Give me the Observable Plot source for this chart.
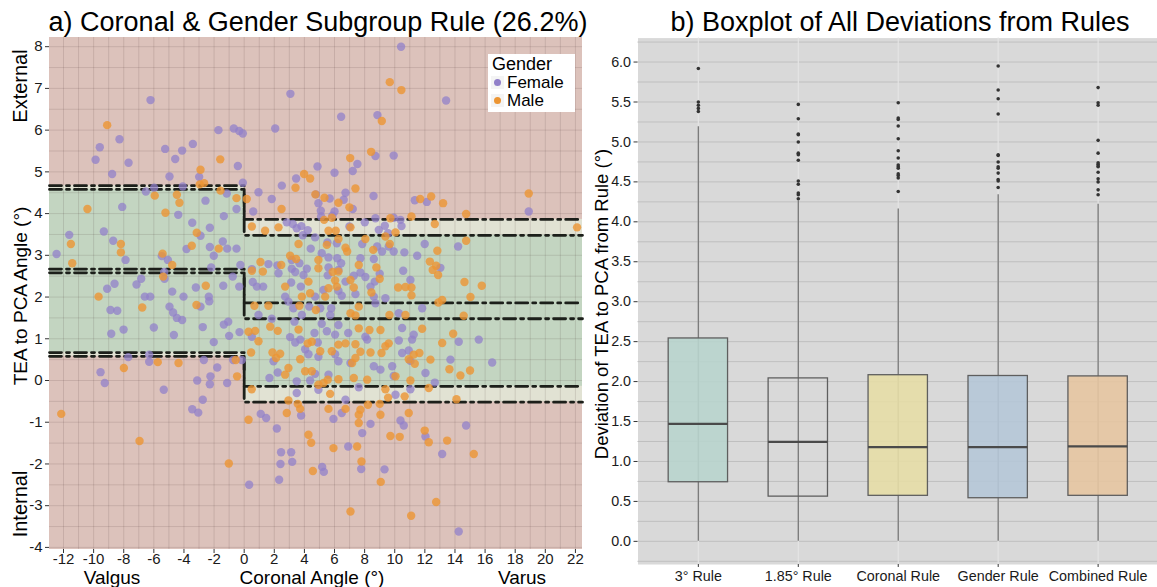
<!DOCTYPE html>
<html>
<head>
<meta charset="utf-8">
<script src="https://cdn.jsdelivr.net/npm/d3@7"></script>
<script src="https://cdn.jsdelivr.net/npm/@observablehq/plot@0.6"></script>
<style>
body{margin:0;background:#fff;font-family:"Liberation Sans",Arial,sans-serif;overflow:hidden;}
#wrap{position:relative;width:1157px;height:587px;overflow:hidden;background:#fff;}
.lbl{position:absolute;white-space:nowrap;font-size:19px;color:#000;transform:translate(-50%,-50%);line-height:1;}
.rot{transform:translate(-50%,-50%) rotate(-90deg);}
.title{font-size:27px;}
#left,#right{position:absolute;top:0;}
#left{left:0;} #right{left:590px;}
#legend{position:absolute;left:488px;top:54px;width:87px;height:58px;background:#fff;}
#legend .t{position:absolute;left:4px;font-size:17px;line-height:18px;white-space:nowrap;}
#legend .k{position:absolute;left:3px;width:13px;height:13px;background:#f4f4f4;}
#legend .d{position:absolute;left:3px;top:3px;width:7px;height:7px;border-radius:50%;}
</style>
</head>
<body>
<div id="wrap">
  <div id="left"></div>
  <div id="right"></div>
  <div class="lbl title" style="left:318px;top:22px;">a) Coronal &amp; Gender Subgroup Rule (26.2%)</div>
  <div class="lbl title" style="left:900px;top:22px;">b) Boxplot of All Deviations from Rules</div>
  <div class="lbl rot" style="left:20px;top:86px;font-size:20px;">External</div>
  <div class="lbl rot" style="left:20px;top:296px;">TEA to PCA Angle (°)</div>
  <div class="lbl rot" style="left:20px;top:504px;font-size:20px;">Internal</div>
  <div class="lbl" style="left:112px;top:577px;">Valgus</div>
  <div class="lbl" style="left:312px;top:577px;">Coronal Angle (°)</div>
  <div class="lbl" style="left:522px;top:577px;">Varus</div>
  <div class="lbl rot" style="left:602px;top:304px;font-size:18.5px;">Deviation of TEA to PCA from Rule (°)</div>
  <div id="legend">
    <div class="t" style="top:1px;font-size:18px;">Gender</div>
    <div class="k" style="top:22px;"><div class="d" id="kf"></div></div>
    <div class="t" style="left:19px;top:20px;">Female</div>
    <div class="k" style="top:40px;"><div class="d" id="km"></div></div>
    <div class="t" style="left:19px;top:38px;">Male</div>
  </div>
</div>
<script>
// ---------- Panel a data ----------
const femalePoints = [
[-12.46,3.03],[-11.62,3.49],[-9.32,3.57],[-8.70,3.35],[-8.10,4.16],[-9.87,5.29],[-9.59,5.59],[-8.28,5.78],[-7.68,5.22],[-8.77,4.95],[-6.22,6.72],[-5.25,5.55],[-4.58,5.31],[-4.12,5.51],[-3.41,5.67],[-4.96,4.89],[-6.53,4.53],[-5.98,4.62],[-4.08,4.65],[-2.99,4.88],[-4.38,3.97],[-3.45,3.78],[-2.90,3.47],[-2.28,3.66],[-1.42,3.33],[-2.28,3.20],[-2.02,2.99],[-3.83,3.15],[-1.13,3.16],[-0.51,3.16],[-5.47,2.98],[-5.07,2.89],[-7.88,2.89],[-2.19,2.71],[-1.35,3.94],[-1.16,4.48],[-1.71,6.00],[-0.69,6.04],[-0.33,5.98],[-0.09,5.92],[-0.42,5.14],[-0.09,4.74],[-0.51,4.11],[-2.57,4.31],[-5.29,2.44],[-5.31,2.60],[-6.84,2.44],[-7.15,2.30],[-9.10,2.20],[-8.61,2.32],[-6.60,2.01],[-6.24,2.01],[-4.78,2.13],[-4.03,2.01],[-3.21,2.23],[-2.35,2.01],[-1.39,2.27],[-0.76,2.49],[-0.33,2.25],[-0.25,2.77],[-2.32,1.90],
[-8.88,1.69],[-8.43,1.67],[-8.83,1.12],[-8.01,1.22],[-6.00,1.27],[-4.96,1.77],[-4.72,1.63],[-4.47,1.50],[-4.12,1.45],[-4.67,1.09],[-2.75,1.28],[-2.90,1.77],[-1.35,1.34],[-1.06,1.41],[-1.00,1.07],[-0.31,1.16],[-0.73,0.49],[-2.02,0.92],[-2.68,0.49],[-1.79,0.31],[-1.13,-0.06],[-2.24,0.10],[-2.28,-0.09],[-3.12,0.00],[-2.75,-0.46],[-3.45,-0.69],[-3.05,-0.77],[-5.34,-0.22],[-6.31,0.45],[-6.31,0.62],[-7.70,0.56],[-9.54,0.20],[-9.26,-0.06],
[4.87,5.13],[6.00,4.98],[3.45,4.84],[2.50,4.67],[0.95,4.51],[1.83,4.35],[0.60,4.05],[4.76,4.46],[4.93,4.25],[5.09,4.07],[6.00,4.05],[2.83,3.79],[3.23,3.75],[3.49,3.65],[3.80,3.70],[4.22,3.60],[3.89,3.48],[5.11,3.93],[5.86,3.95],[4.71,3.43],[5.53,3.31],[4.42,3.16],[6.15,3.29],[5.15,3.05],[5.60,2.95],[6.18,2.93],[6.44,2.81],[3.16,2.89],[3.67,2.81],[2.21,2.76],[1.61,2.79],[3.16,2.68],[3.39,2.60],[4.16,2.68],[3.94,2.53],[5.60,2.71],[6.26,2.65],[5.55,2.52],[0.51,2.67],[0.57,2.36],[0.84,2.25],[1.26,2.25],[2.28,2.57],[3.12,2.35],[3.76,2.25],[4.71,2.01],[5.27,2.17],[6.26,2.15],[6.48,2.03],[2.72,2.01],[5.68,4.36],[6.61,4.33],
[8.72,5.38],[9.93,5.39],[7.52,5.19],[7.21,5.02],[6.73,4.50],[8.59,4.42],[7.21,4.11],[11.33,4.32],[12.13,4.28],[8.72,3.89],[9.93,3.90],[10.38,3.85],[8.01,3.79],[6.99,3.69],[9.34,3.71],[10.45,3.70],[8.94,3.61],[9.56,3.53],[7.84,3.27],[8.83,3.21],[9.60,3.21],[9.93,3.09],[10.64,3.07],[9.16,3.09],[11.99,3.27],[11.49,2.99],[13.03,2.70],[7.72,2.93],[8.61,2.91],[7.28,2.51],[7.72,2.59],[8.05,2.48],[9.00,2.56],[8.67,2.37],[10.56,2.63],[11.04,2.41],[8.39,2.25],[6.73,2.37],[7.39,2.07],[8.61,2.01],[9.38,1.97],
[2.94,1.89],[3.27,1.73],[4.32,1.77],[5.05,1.73],[5.78,1.73],[0.95,1.57],[1.83,1.48],[3.83,1.57],[3.34,1.41],[5.15,1.36],[5.71,1.57],[6.26,1.33],[0.51,1.05],[3.05,1.04],[3.39,0.91],[3.72,0.98],[4.67,1.14],[4.89,0.91],[5.49,1.18],[6.04,1.10],[4.05,0.75],[4.27,0.63],[4.93,0.57],[6.04,0.63],[1.95,0.46],[2.23,0.19],[1.68,0.06],[3.49,-0.02],[4.38,0.00],[4.71,0.16],[5.60,0.14],[6.26,0.46],[4.93,-0.22],[3.49,-0.30],[5.93,-0.92],[6.48,-0.78],[1.10,-0.80],[1.46,-0.90],[2.17,-1.15],[3.78,-0.84],[-0.16,0.49],
[8.72,1.85],[10.27,1.61],[11.82,1.73],[6.91,1.14],[8.05,1.05],[8.17,0.98],[10.49,1.26],[11.26,1.10],[11.15,0.98],[10.27,0.96],[10.49,0.66],[10.93,0.72],[11.04,0.47],[7.06,0.42],[8.61,0.34],[9.05,0.26],[9.83,0.34],[9.93,0.11],[12.04,0.18],[12.66,-0.05],[13.70,0.50],[7.61,-0.16],[11.04,-0.21],[10.05,-0.34],[6.73,-0.46],[10.38,-0.96],[10.60,-1.08],[8.39,-1.04],[7.84,-1.26],[12.04,-1.34],[6.91,-1.58],
[2.45,-1.72],[3.12,-1.72],[2.41,-2.00],[3.19,-1.95],[2.32,-2.38],[0.33,-2.50],[5.18,-2.07],[5.29,-2.19],[7.77,-2.12],[9.32,-2.13],[13.15,-1.76],
[10.42,8.00],[3.07,6.87],[6.44,6.32],[8.85,6.36],[2.06,6.04],[13.41,6.71],
[15.58,0.98],[16.47,0.43],[14.25,0.93],[14.74,-1.08],[14.25,-3.62],[18.90,4.05],[14.21,3.21]
];
const malePoints = [
[-9.10,6.12],[-10.41,4.11],[-11.51,3.27],[-11.42,2.81],[-8.19,3.27],[-8.19,3.07],[-9.67,2.01],[-5.94,4.43],[-5.23,4.02],[-4.47,4.45],[-4.30,4.26],[-2.90,5.05],[-2.95,4.70],[-2.66,4.73],[-1.59,5.30],[-1.57,4.55],[-0.51,4.37],[-3.15,3.54],[-3.48,3.23],[-1.69,3.16],[-5.42,3.04],[-4.78,2.77],[-5.38,2.49],[-6.77,1.75],[-2.55,2.27],
[-12.15,-0.80],[-7.99,0.30],[-5.74,0.44],[-4.36,0.42],[-6.95,-1.45],[-1.02,-1.99],[-0.56,0.49],[-0.47,0.10],[-3.17,1.81],
[3.98,4.95],[4.38,4.84],[3.41,4.62],[2.48,4.11],[5.33,4.38],[6.26,4.26],[0.51,3.69],[1.39,3.59],[2.28,3.67],[5.31,3.85],[5.82,3.90],[5.60,3.59],[6.08,3.59],[6.26,3.39],[3.61,3.27],[5.49,3.25],[1.08,2.84],[0.51,2.63],[1.24,2.61],[2.46,2.77],[3.05,2.99],[3.45,2.91],[4.93,2.89],[4.93,2.69],[5.88,2.60],[6.04,2.40],[6.26,2.61],[5.60,2.21],[4.27,2.37],[3.83,2.01],[4.38,2.09],[5.38,2.01],[6.15,2.25],[2.72,2.25],[0.17,4.35],[4.73,4.46],
[8.43,5.48],[7.04,5.33],[7.39,4.60],[6.99,4.15],[11.69,4.35],[12.42,4.41],[13.21,4.25],[9.71,3.89],[11.11,3.93],[12.66,3.75],[10.05,3.55],[7.06,3.67],[8.05,3.39],[9.38,3.45],[6.73,3.18],[6.84,3.09],[8.57,3.13],[9.67,3.27],[12.83,3.11],[12.33,2.85],[12.52,2.65],[12.88,2.53],[8.78,2.71],[7.61,2.77],[7.06,2.41],[7.28,2.23],[9.00,2.44],[8.45,2.11],[10.23,2.23],[10.71,2.24],[11.11,2.23],[11.11,2.04],[13.15,1.93],[12.75,2.75],[12.90,1.87],
[0.68,1.79],[1.61,1.79],[3.67,1.79],[4.76,1.69],[0.29,1.17],[0.73,1.19],[1.73,1.29],[2.23,1.19],[3.61,1.22],[0.95,0.94],[0.46,0.67],[1.88,0.67],[2.39,0.64],[2.12,0.54],[3.72,0.51],[4.22,0.89],[4.49,0.93],[5.05,0.70],[5.82,0.70],[6.26,0.86],[2.72,0.14],[2.94,0.30],[4.05,0.22],[4.49,0.22],[5.27,-0.06],[4.93,-0.10],[5.55,0.02],[6.26,0.03],[5.71,-0.32],[2.94,-0.48],[3.56,-0.56],[3.72,-0.68],[5.60,-0.68],[2.83,-0.78],[0.29,-0.94],[4.27,-1.30],[4.45,-1.49],[5.93,-1.62],[0.50,-0.21],
[7.61,1.77],[7.06,1.61],[7.39,1.56],[9.65,1.57],[10.71,1.57],[7.61,1.25],[8.32,1.21],[9.05,1.21],[11.82,1.24],[6.73,0.89],[7.39,0.87],[7.72,0.69],[8.39,0.67],[9.12,0.66],[9.38,0.82],[9.60,0.89],[7.39,0.54],[7.17,0.42],[11.26,0.62],[11.64,0.66],[10.93,0.51],[11.33,0.40],[12.37,0.50],[13.15,0.90],[13.63,0.27],[7.28,0.06],[8.17,0.02],[10.05,0.10],[11.04,0.00],[9.38,-0.21],[9.56,-0.41],[10.66,-0.38],[12.26,-0.18],[6.73,-0.68],[7.72,-0.70],[7.61,-0.82],[8.22,-0.58],[9.00,-0.56],[9.05,-0.82],[10.93,-0.78],[7.61,-1.02],[9.71,-1.33],[10.33,-1.35],[11.99,-1.20],[12.26,-1.48],[13.48,-1.44],[7.50,-1.58],
[4.56,-2.17],[7.79,-1.94],[9.07,-2.43],[7.06,-3.14],[11.09,-3.24],[12.75,-2.91],
[9.67,7.15],[10.44,6.96],[9.14,6.22],
[13.88,1.12],[14.36,0.12],[15.00,0.24],[14.10,-0.45],[14.58,1.55],[15.25,-1.76],[18.90,4.48],[14.74,3.99],[22.11,3.67],[14.74,3.35],[14.63,2.36],[15.78,2.27],[15.03,2.00]
];
// rule centre lines (valgus side x<0, varus side x>0) and tolerance band
const ruleCentersValgus = [2.67, 2.58];
const ruleCentersVarus = [1.86, 1.48];
const ruleTolerance = 2;
const xTicksA = [-12,-10,-8,-6,-4,-2,0,2,4,6,8,10,12,14,16,18,20,22];
const yTicksA = [-4,-3,-2,-1,0,1,2,3,4,5,6,7,8];

// ---------- Panel b data ----------
const rules = ["3° Rule","1.85° Rule","Coronal Rule","Gender Rule","Combined Rule"];
const q1 = [0.74,0.56,0.57,0.54,0.57];
const medians = [1.47,1.245,1.18,1.18,1.19];
const q3 = [2.54,2.04,2.08,2.07,2.065];
const whiskerLow = [0,0,0,0,0];
const whiskerHigh = [5.19,4.26,4.16,4.34,4.22];
const outliers = [
  [5.92,5.50,5.46,5.42,5.38],
  [5.47,5.29,5.10,5.09,5.00,4.86,4.84,4.77,4.51,4.47,4.36,4.34,4.29],
  [5.49,5.30,5.28,5.20,5.04,4.89,4.80,4.71,4.69,4.67,4.60,4.58,4.55,4.38],
  [5.95,5.65,5.54,5.35,4.84,4.83,4.75,4.69,4.67,4.61,4.53,4.51,4.43],
  [5.68,5.49,5.46,5.02,4.86,4.74,4.72,4.70,4.69,4.62,4.54,4.50,4.40,4.34]
];
const yTicksB = [0,0.5,1,1.5,2,2.5,3,3.5,4,4.5,5,5.5,6];

// ---------- styles ----------
const FONT = '"Liberation Sans", Arial, sans-serif';
const femaleColor = "#9180c9", maleColor = "#ec9533";
document.getElementById("kf").style.background = femaleColor;
document.getElementById("km").style.background = maleColor;

// ---------- Panel a ----------
const xDomA = [-12.93, 22.47], yDomA = [-4.05, 8.22];
function sideRects(x1, x2, centers) {
  const lows = centers.map(c => c - ruleTolerance), highs = centers.map(c => c + ruleTolerance);
  return [
    {x1, x2, y1: d3.min(lows), y2: d3.max(highs), fill: "#e1e2d3"},
    {x1, x2, y1: d3.max(lows), y2: d3.min(highs), fill: "#c3d5c1"}
  ];
}
const regionRects = [
  {x1: xDomA[0], x2: xDomA[1], y1: yDomA[0], y2: yDomA[1], fill: "#dcc2bb"},
  ...sideRects(xDomA[0], 0, ruleCentersValgus),
  ...sideRects(0, xDomA[1], ruleCentersVarus)
];
const stepLines = [];
ruleCentersValgus.forEach((cv, i) => {
  const cr = ruleCentersVarus[i];
  [-ruleTolerance, 0, ruleTolerance].forEach((o, j) => {
    const id = i * 3 + j;
    stepLines.push({id, x: xDomA[0], y: cv + o}, {id, x: 0, y: cv + o}, {id, x: 0, y: cr + o}, {id, x: xDomA[1], y: cr + o});
  });
});
const xGrid = d3.range(Math.ceil(xDomA[0]), Math.floor(xDomA[1]) + 1);
const yGrid = d3.range(-4, 8.01, 0.5);

const plotA = Plot.plot({
  width: 590, height: 587,
  marginLeft: 49, marginRight: 8, marginTop: 37, marginBottom: 38,
  x: {domain: xDomA},
  y: {domain: yDomA},
  color: {type: "identity"},
  style: {fontFamily: FONT, fontSize: "15px", color: "#1a1a1a", background: "transparent", overflow: "visible"},
  marks: [
    Plot.rect(regionRects, {x1: "x1", x2: "x2", y1: "y1", y2: "y2", fill: "fill"}),
    Plot.ruleX(xGrid, {stroke: "#3a2a28", strokeOpacity: 0.13, strokeWidth: 1}),
    Plot.ruleY(yGrid, {stroke: "#3a2a28", strokeOpacity: 0.13, strokeWidth: 1}),
    Plot.line(stepLines, {x: "x", y: "y", z: "id", stroke: "#1c1f1a", strokeWidth: 2.8, strokeDasharray: "12,5,3,5"}),
    Plot.dot(femalePoints, {x: d => d[0], y: d => d[1], r: 4.2, fill: femaleColor, fillOpacity: 0.75}),
    Plot.dot(malePoints, {x: d => d[0], y: d => d[1], r: 4.2, fill: maleColor, fillOpacity: 0.8}),
    Plot.axisX({ticks: xTicksA, tickFormat: d => String(d), tickSize: 4, tickPadding: 0, fontSize: 15, label: null, stroke: "#333"}),
    Plot.axisY({ticks: yTicksA, tickFormat: d => String(d), tickSize: 4, tickPadding: 3, fontSize: 15, label: null, stroke: "#333"})
  ]
});
document.getElementById("left").appendChild(plotA);

// ---------- Panel b ----------
const boxFills = ["#b8d4cd", "transparent", "#e6dda6", "#b5c7d7", "#e6c5a1"];
const boxTable = rules.map((r, i) => ({rule: r, q1: q1[i], med: medians[i], q3: q3[i], lo: whiskerLow[i], hi: whiskerHigh[i], fill: boxFills[i]}));
const outlierTable = rules.flatMap((r, i) => outliers[i].map(v => ({rule: r, v})));
const yGridB = d3.range(-0.25, 6.31, 0.25);

const plotB = Plot.plot({
  width: 573, height: 587,
  marginLeft: 48, marginRight: 0, marginTop: 38, marginBottom: 17,
  x: {type: "band", domain: rules, paddingInner: 0.406, paddingOuter: 0.3},
  y: {domain: [-0.29, 6.3]},
  color: {type: "identity"},
  style: {fontFamily: FONT, fontSize: "14px", color: "#1a1a1a", background: "transparent", overflow: "visible"},
  marks: [
    Plot.frame({fill: "#d9d9d9", stroke: "none"}),
    Plot.ruleY(yGridB, {stroke: "#bfbfbf", strokeWidth: 1}),
    Plot.ruleX(rules, {x: d => d, stroke: "#e4e4e4", strokeWidth: 1.2}),
    Plot.ruleX(boxTable, {x: "rule", y1: "lo", y2: "hi", stroke: "#7c7c7c", strokeWidth: 1.4}),
    Plot.barY(boxTable, {x: "rule", y1: "q1", y2: "q3", fill: "fill", fillOpacity: 0.9, stroke: "#5e5e5e", strokeWidth: 1.3}),
    Plot.tickY(boxTable, {x: "rule", y: "med", stroke: "#4a4a4a", strokeWidth: 2.2}),
    Plot.dot(outlierTable, {x: "rule", y: "v", r: 1.8, fill: "#333", stroke: "none"}),
    Plot.axisY({ticks: yTicksB, tickFormat: d3.format(".1f"), tickSize: 4, tickPadding: 3, fontSize: 14.5, label: null, stroke: "#333"}),
    Plot.axisX({tickSize: 3, tickPadding: 3, fontSize: 14.5, label: null, stroke: "#333"})
  ]
});
document.getElementById("right").appendChild(plotB);
</script>
</body>
</html>
